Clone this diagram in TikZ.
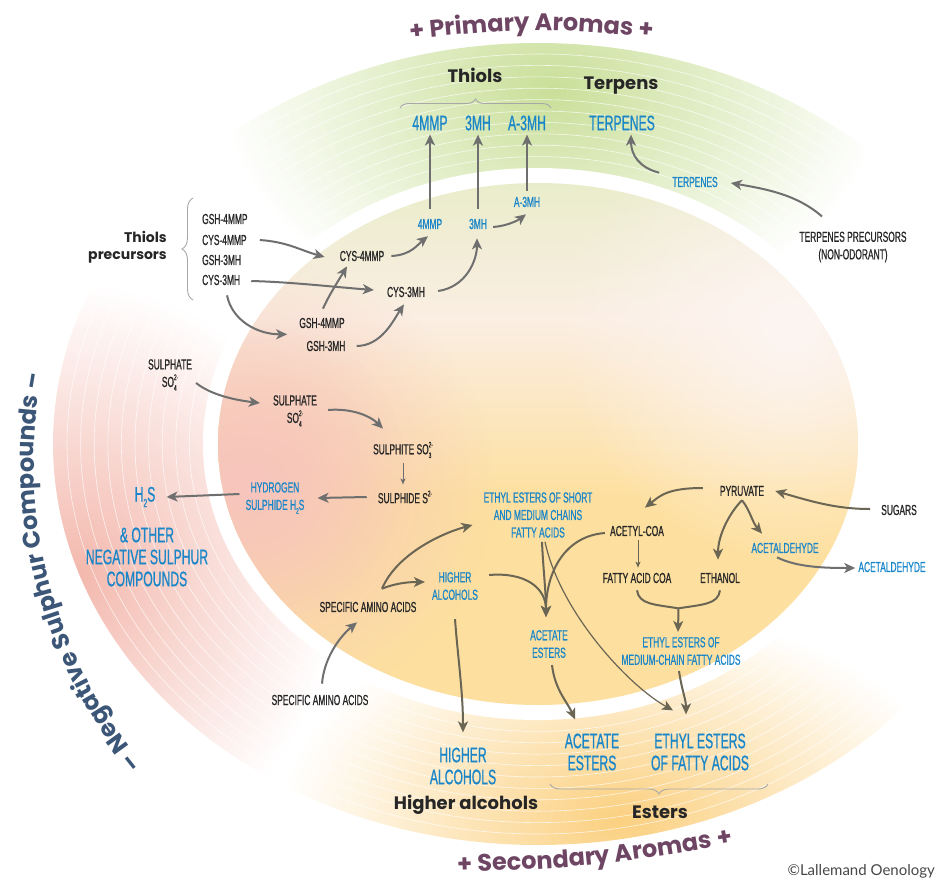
\documentclass[tikz,border=0pt]{standalone}
\usepackage{fontspec}
\usetikzlibrary{arrows.meta,decorations.text,decorations.pathreplacing,fadings,calc}
\newfontfamily\cnd[FakeStretch=0.58, FakeBold=0.8]{Liberation Sans}
\newfontfamily\hd{Poppins}
\newfontfamily\cpy{Lato}
\definecolor{blueT}{HTML}{1A86C8}
\definecolor{darkT}{HTML}{262626}
\definecolor{arrG}{HTML}{6F6F6F}
\definecolor{arrY}{HTML}{6B6554}
\definecolor{primC}{HTML}{6E4563}
\definecolor{negC}{HTML}{3C5678}
\definecolor{ringG}{HTML}{C9DF98}
\definecolor{ringP}{HTML}{F3B8AD}
\definecolor{ringY}{HTML}{FBD080}
\definecolor{cellG}{HTML}{E3ECC2}
\definecolor{cellM}{HTML}{FBEEE3}
\definecolor{cellY}{HTML}{FDE0A0}
\definecolor{pinkC}{HTML}{F7C5BC}
\definecolor{whiteP}{HTML}{FDF5F2}
\definecolor{braceC}{HTML}{A8A8A8}
\tikzfading[name=myblob, inner color=transparent!0, outer color=transparent!100]
\pgfdeclareverticalshading{cellsh}{100bp}{color(0bp)=(cellY); color(45bp)=(cellY); color(62bp)=(cellM); color(80bp)=(cellG); color(100bp)=(cellG)}
\newcommand\mysub[1]{\raisebox{-0.5ex}{\scalebox{0.55}{#1}}}
\newcommand\mysup[1]{\raisebox{0.9ex}{\scalebox{0.55}{#1}}}
\newcommand\mysubsup[2]{\rlap{\mysub{#1}}\mysup{#2}}
\tikzset{
  lbl/.style={font=\cnd\fontsize{14.5}{17.5}\selectfont, text=darkT, inner sep=1pt, align=center},
  blbl/.style={lbl, text=blueT},
  big/.style={font=\cnd\fontsize{21}{22}\selectfont, text=blueT, inner sep=1pt, align=center},
  head/.style={font=\hd\bfseries\fontsize{18}{20}\selectfont, text=darkT, inner sep=1pt},
  arr/.style={draw=arrG, line width=2pt, -{Stealth[length=11pt,width=10pt,inset=3pt]}},
  arry/.style={arr, draw=arrY},
  arrs/.style={draw=arrG, line width=1pt, -{Stealth[length=6pt,width=5pt,inset=1.5pt]}},
  bracestyle/.style={draw=braceC, line width=0.9pt, decorate},
}
\begin{document}
\begin{tikzpicture}[x=1pt,y=-1pt]
\useasboundingbox (0,0) rectangle (936,880);
\clip (0,0) rectangle (936,880);
% ring
\begin{scope}
  \clip (538,444) ellipse [x radius=485, y radius=401];
  \fill[ringG, path fading=myblob] (552,90) ellipse [x radius=330, y radius=230];
  \fill[ringP, path fading=myblob] (78,575) ellipse [x radius=260, y radius=290];
  \fill[ringY, path fading=myblob] (620,820) ellipse [x radius=340, y radius=210];
\end{scope}
\fill[white] (538,444) ellipse [x radius=335, y radius=276];
\foreach \i in {1,...,10} \draw[white, line width=0.6pt, opacity=0.75] (538,444) ellipse [x radius={335+\i*13.6}, y radius={276+\i*11.4}];
% cell
\begin{scope}
  \clip (538,444) ellipse [x radius=320, y radius=261];
  \shade[shading=cellsh] (218,183) rectangle (858,705);
  \fill[pinkC, path fading=myblob] (245,485) ellipse [x radius=250, y radius=230];
  \fill[pinkC, path fading=myblob, opacity=0.7] (255,470) ellipse [x radius=150, y radius=150];
  \fill[whiteP, path fading=myblob] (790,330) ellipse [x radius=230, y radius=230];
\end{scope}
% curved titles
\path[decorate, decoration={text along path, text align=center, text color=primC, text={|\hd\bfseries\fontsize{24}{24}\selectfont|+ Primary Aromas +}}] (395,41) .. controls (530,27) .. (668,39);
\path[decorate, decoration={text along path, text align=center, text color=primC, text={|\hd\bfseries\fontsize{24}{24}\selectfont|+ Secondary Aromas +}}] (425,873) .. controls (590,868) .. (765,839);
\path[decorate, decoration={text along path, text align=center, text color=negC, text={|\hd\bfseries\fontsize{24}{24}\selectfont|– Negative Sulphur Compounds –}}] ([shift={(511,461)}]-224:477) arc[start angle=-224, end angle=-165, radius=477];
% top labels
\node[head] (thiolsH) at (475,75) {Thiols};
\node[head] (terpH) at (621,86) {Terpens};
\node[big] (b4) at (430,123) {4MMP};
\node[big] (b3) at (478,123) {3MH};
\node[big] (ba3) at (527,123) {A-3MH};
\node[big] (bt) at (622,123) {TERPENES};
\node[blbl] (s4) at (430,224) {4MMP};
\node[blbl] (s3) at (478,224) {3MH};
\node[blbl] (sa3) at (527,202) {A-3MH};
\node[blbl] (st) at (695,182) {TERPENES};
\node[lbl] (tpre) at (853,247) {TERPENES PRECURSORS\\(NON-ODORANT)};
\draw[bracestyle, decoration={brace, amplitude=9pt}] (400,108) -- (551,108);
% thiols precursors
\node[head, font=\hd\bfseries\fontsize{14}{17}\selectfont, align=right, anchor=east] (tpH) at (168,247) {Thiols\\precursors};
\draw[bracestyle, decoration={brace, amplitude=11pt}] (193,300) -- (193,198);
\node[lbl, anchor=west] (g1) at (201,219) {GSH-4MMP};
\node[lbl, anchor=west] (c1) at (201,240) {CYS-4MMP};
\node[lbl, anchor=west] (g2) at (201,260) {GSH-3MH};
\node[lbl, anchor=west] (c2) at (201,280) {CYS-3MH};
\node[lbl] (mc4) at (362,256) {CYS-4MMP};
\node[lbl] (mc3) at (406,292) {CYS-3MH};
\node[lbl] (mg4) at (322,323) {GSH-4MMP};
\node[lbl] (mg3) at (326,346) {GSH-3MH};
% sulphur
\node[lbl] (sul1) at (170,375) {SULPHATE\\SO\mysubsup{4}{2-}};
\node[lbl] (sul2) at (295,411) {SULPHATE\\SO\mysubsup{4}{2-}};
\node[lbl] (sulf) at (403,450) {SULPHITE SO\mysubsup{3}{2-}};
\node[lbl] (sulfd) at (405,497) {SULPHIDE S\mysup{2-}};
\node[blbl] (h2sin) at (275,498) {HYDROGEN\\SULPHIDE H\mysub{2}S};
\node[big] (h2s) at (145,497) {H\mysub{2}S};
\node[big] (other) at (147,557) {\& OTHER\\NEGATIVE SULPHUR\\COMPOUNDS};
% yellow region
\node[blbl] (eess) at (538,515) {ETHYL ESTERS OF SHORT\\AND MEDIUM CHAINS\\FATTY ACIDS};
\node[lbl] (pyr) at (742,491) {PYRUVATE};
\node[lbl] (sug) at (899,510) {SUGARS};
\node[lbl] (acoa) at (637,531) {ACETYL-COA};
\node[lbl] (facoa) at (637,578) {FATTY ACID COA};
\node[lbl] (eth) at (720,578) {ETHANOL};
\node[blbl] (acin) at (785,548) {ACETALDEHYDE};
\node[blbl] (acout) at (892,567) {ACETALDEHYDE};
\node[blbl] (eemc) at (681,651) {ETHYL ESTERS OF\\MEDIUM-CHAIN FATTY ACIDS};
\node[blbl] (acs) at (549,644) {ACETATE\\ESTERS};
\node[blbl] (has) at (455,586) {HIGHER\\ALCOHOLS};
\node[lbl] (saa) at (368,607) {SPECIFIC AMINO ACIDS};
\node[lbl] (saa2) at (320,700) {SPECIFIC AMINO ACIDS};
\node[big] (bha) at (463,766) {HIGHER\\ALCOHOLS};
\node[big] (bace) at (592,752) {ACETATE\\ESTERS};
\node[big] (bet) at (700,752) {ETHYL ESTERS\\OF FATTY ACIDS};
\node[head] (hah) at (466,805) {Higher alcohols};
\node[head] (esh) at (660,812) {Esters};
\draw[bracestyle, decoration={brace, amplitude=10pt}] (768,784) -- (550,784);
\node[anchor=east, font=\cpy\fontsize{15}{15}\selectfont, text=darkT!85, inner sep=0] (copy) at (935,871) {©Lallemand Oenology};
% arrows top
\draw[arr] ($(s4.north)+(0,-9)$) -- ($(b4.south)+(0,3)$);
\draw[arr] ($(s3.north)+(0,-9)$) -- ($(b3.south)+(0,3)$);
\draw[arr] ($(sa3.north)+(0,-5)$) -- ($(ba3.south)+(0,3)$);
\draw[arr] ($(st.north west)+(-12,-3)$) .. controls +(-20,-5) and +(0,20) .. ($(bt.south)+(9,3)$);
\draw[arr] ($(tpre.north)+(-31,-14)$) .. controls +(-25,-22) and +(35,6) .. ($(st.east)+(12,1)$);
% thiol arrows
\draw[arr] ($(c1.east)+(12,0)$) .. controls +(28,2) and +(-25,-7) .. ($(mc4.west)+(-14,1)$);
\draw[arr] ($(c2.east)+(10,1)$) .. controls +(40,1) and +(-40,-3) .. ($(mc3.west)+(-12,-2)$);
\draw[arr] ($(c2.south west)+(26,9)$) .. controls +(5,25) and +(-30,0) .. ($(mg4.south west)+(-11,5)$);
\draw[arr] ($(mg4.north)+(1,-8)$) .. controls +(5,-12) and +(-6,10) .. ($(mc4.south)+(-15,4)$);
\draw[arr] ($(mg3.east)+(10,0)$) .. controls +(25,0) and +(-10,15) .. ($(mc3.south)+(-2,6)$);
\draw[arr] ($(mc4.east)+(6,0)$) .. controls +(20,-1) and +(-10,8) .. ($(s4.south)+(-2,6)$);
\draw[arr] ($(mc3.east)+(12,-1)$) .. controls +(28,-4) and +(0,22) .. ($(s3.south)+(-1,8)$);
\draw[arr] ($(s3.east)+(5,3)$) .. controls +(14,-1) and +(-8,6) .. ($(sa3.south)+(-1,6)$);
% sulphur arrows
\draw[arr] ($(sul1.east)+(3,8)$) .. controls +(15,12) and +(-25,-3) .. ($(sul2.west)+(-12,-8)$);
\draw[arr] ($(sul2.east)+(10,-1)$) .. controls +(25,-2) and +(-12,-12) .. ($(sulf.north)+(-20,-12)$);
\draw[arrs] ($(sulf.south)+(0,4)$) -- ($(sulfd.north)+(-2,-5)$);
\draw[arr] ($(sulfd.west)+(-10,0)$) -- ($(h2sin.east)+(12,0)$);
\draw[arr] ($(h2sin.west)+(-5,-4)$) -- ($(h2s.east)+(10,0)$);
% yellow region arrows
\draw[arry] ($(sug.west)+(-10,-1)$) .. controls +(-35,0) and +(35,10) .. ($(pyr.east)+(10,0)$);
\draw[arry] ($(pyr.west)+(-16,-3)$) .. controls +(-35,0) and +(15,-12) .. ($(acoa.north)+(8,-17)$);
\draw[arry] ($(pyr.south)+(0,3)$) .. controls +(-12,12) and +(0,-25) .. ($(eth.north)+(-2,-12)$);
\draw[arry] ($(pyr.south)+(0,3)$) .. controls +(8,10) and +(-10,-12) .. ($(acin.north)+(-23,-8)$);
\draw[arrs, draw=arrY] ($(acoa.south)+(1,3)$) -- ($(facoa.north)+(1,-4)$);
\draw[arr] ($(acin.south)+(-8,3)$) .. controls +(20,10) and +(-30,0) .. ($(acout.west)+(-2,1)$);
\coordinate (mrg) at ($(facoa.south)!0.5!(eth.south)+(0,24)$);
\draw[arry, -] ($(facoa.south)+(0,6)$) .. controls +(2,14) and +(-25,-4) .. (mrg);
\draw[arry, -] ($(eth.south)+(0,6)$) .. controls +(-2,14) and +(25,-4) .. (mrg);
\draw[arry] (mrg) -- ($(eemc.north)+(-3,-4)$);
\coordinate (acst) at ($(acs.north)+(-3,-12)$);
\draw[arry] ($(eess.south)+(4,3)$) .. controls +(1,25) and +(0,-25) .. (acst);
\draw[arry] ($(acoa.west)+(-4,2)$) .. controls +(-40,3) and +(0,-45) .. (acst);
\draw[arry] ($(has.east)+(10,-11)$) .. controls +(35,-3) and +(0,-30) .. (acst);
\draw[arry, line width=1.2pt] ($(eess.south)+(7,3)$) .. controls +(15,70) and +(-45,-25) .. ($(bet.north)+(-27,-22)$);
\draw[arry] ($(acs.south)+(3,6)$) .. controls +(3,25) and +(-8,-18) .. ($(bace.north)+(-17,-13)$);
\draw[arry] ($(eemc.south)+(-2,5)$) .. controls +(3,20) and +(0,-15) .. ($(bet.north)+(-14,-18)$);
\draw[arry] ($(has.south)+(0,18)$) .. controls +(3,40) and +(0,-40) .. ($(bha.north)+(0,-14)$);
\draw[arry] ($(saa.north)+(14,-12)$) .. controls +(15,-6) and +(-15,0) .. ($(has.west)+(-6,-4)$);
\draw[arry] ($(saa.north)+(14,-12)$) .. controls +(15,-35) and +(-30,8) .. ($(eess.west)+(-10,10)$);
\draw[arr] ($(saa2.north)+(2,-10)$) .. controls +(2,-25) and +(-18,15) .. ($(saa.south)+(-11,9)$);
\end{tikzpicture}
\end{document}
